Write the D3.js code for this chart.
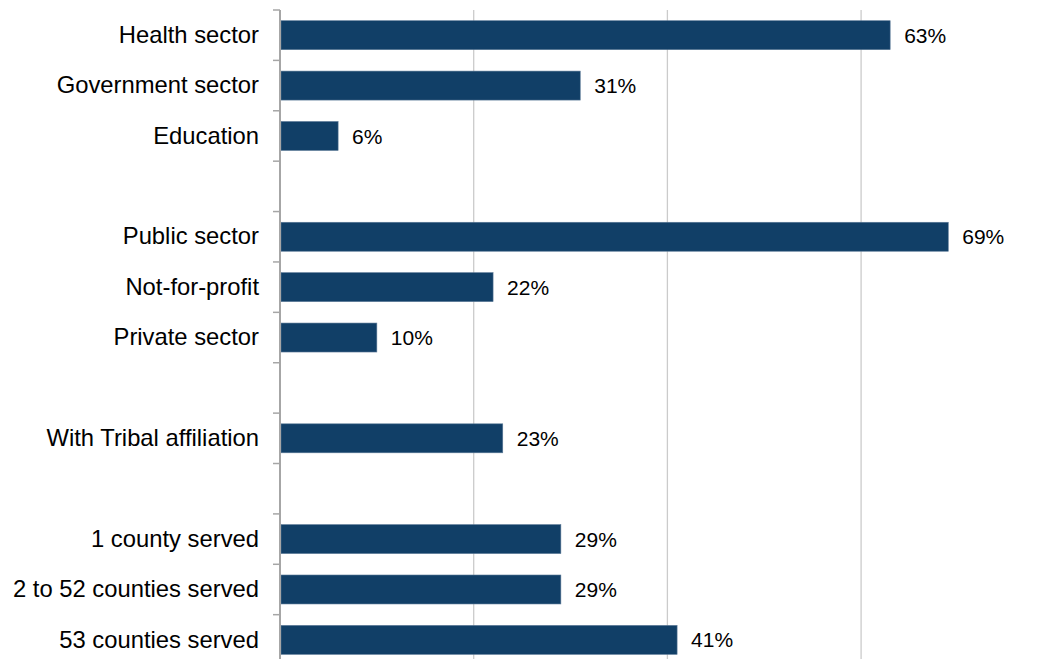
<!DOCTYPE html>
<html>
<head>
<meta charset="utf-8">
<script src="https://cdn.jsdelivr.net/npm/d3@7"></script>
<style>
  html, body { margin: 0; padding: 0; background: #fff; }
  svg { display: block; }
  text { font-family: "Liberation Sans", Arial, sans-serif; fill: #000; }
</style>
</head>
<body>
<svg id="chart" width="1041" height="659"></svg>
<script>
// Rows top to bottom; empty strings are spacer rows between groups
const categories = [
  "Health sector", "Government sector", "Education", "",
  "Public sector", "Not-for-profit", "Private sector", "",
  "With Tribal affiliation", "",
  "1 county served", "2 to 52 counties served", "53 counties served"
];
const values = [63, 31, 6, null, 69, 22, 10, null, 23, null, 29, 29, 41];
const gridTicks = [20, 40, 60];

const svg = d3.select("#chart");
const plotLeft = 280, plotTop = 10, bandH = 50.39;
const rowKeys = categories.map((c, i) => i);

const x = d3.scaleLinear().domain([0, 20]).range([plotLeft, plotLeft + 193.7]);
const y = d3.scaleBand()
  .domain(rowKeys)
  .range([plotTop, plotTop + bandH * categories.length])
  .paddingInner(0.425)
  .paddingOuter(0.2125);

// vertical gridlines
svg.append("g")
  .selectAll("line")
  .data(gridTicks)
  .join("line")
  .attr("x1", d => x(d)).attr("x2", d => x(d))
  .attr("y1", plotTop).attr("y2", 659)
  .attr("stroke", "#cbcbcb")
  .attr("stroke-width", 1.3);

// bars
const rows = categories.map((c, i) => ({ key: i, label: c, value: values[i] }));
const dataRows = rows.filter(r => r.value != null);

svg.append("g")
  .selectAll("rect")
  .data(dataRows)
  .join("rect")
  .attr("x", x(0) + 1)
  .attr("y", d => y(d.key))
  .attr("width", d => x(d.value) - x(0) - 1)
  .attr("height", y.bandwidth())
  .attr("fill", "#113f67")
  .attr("stroke", "#5a7896")
  .attr("stroke-width", 0.6);

// value labels
svg.append("g")
  .selectAll("text")
  .data(dataRows)
  .join("text")
  .attr("x", d => x(d.value) + 14)
  .attr("y", d => y(d.key) + y.bandwidth() / 2)
  .attr("dy", "0.36em")
  .attr("font-size", 21)
  .text(d => d.value + "%");

// category axis
const yAxis = d3.axisLeft(y)
  .tickFormat(i => categories[i])
  .tickSize(0)
  .tickPadding(21);

const ag = svg.append("g")
  .attr("transform", `translate(${plotLeft},0)`)
  .call(yAxis);
ag.select(".domain").remove();
ag.selectAll("text")
  .attr("font-size", 23.8)
  .attr("font-family", "Liberation Sans, Arial, sans-serif")
  .attr("fill", "#000");

// axis line and boundary ticks between rows
svg.append("line")
  .attr("x1", plotLeft).attr("x2", plotLeft)
  .attr("y1", plotTop).attr("y2", 659)
  .attr("stroke", "#a6a6a6")
  .attr("stroke-width", 2);

const boundaries = d3.range(categories.length + 1).map(i => plotTop + i * bandH);
svg.append("g")
  .selectAll("line")
  .data(boundaries.filter(b => b < 659))
  .join("line")
  .attr("x1", plotLeft - 7).attr("x2", plotLeft)
  .attr("y1", d => d).attr("y2", d => d)
  .attr("stroke", "#a6a6a6")
  .attr("stroke-width", 1.5);
</script>
</body>
</html>
